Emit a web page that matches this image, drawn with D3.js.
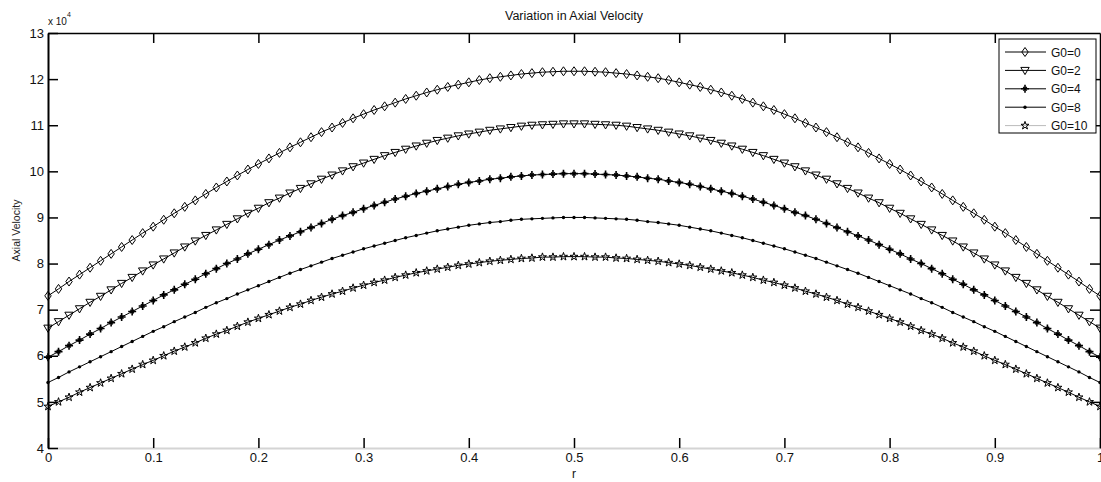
<!DOCTYPE html>
<html>
<head>
<meta charset="utf-8">
<script src="https://cdn.jsdelivr.net/npm/d3@7"></script>
<style>
html,body{margin:0;padding:0;background:#fff;}
svg{display:block;font-family:"Liberation Sans",Arial,sans-serif;}
</style>
</head>
<body>
<svg id="chart" width="1101" height="482"></svg>
<script>
// ---------- data (values in units of 10^4) ----------
const rValues = d3.range(101).map(i => i / 100);
const seriesNames = ["G0=0", "G0=2", "G0=4", "G0=8", "G0=10"];
const g0_0 = [7.30,7.45,7.61,7.76,7.91,8.06,8.21,8.36,8.51,8.66,8.80,8.95,9.09,9.23,9.37,9.51,9.65,9.78,9.91,10.04,10.16,10.28,10.40,10.52,10.63,10.74,10.85,10.95,11.05,11.15,11.24,11.33,11.41,11.49,11.57,11.64,11.71,11.77,11.83,11.88,11.93,11.98,12.02,12.05,12.08,12.11,12.13,12.15,12.16,12.17,12.17,
12.17,12.16,12.15,12.13,12.11,12.08,12.05,12.02,11.98,11.93,11.88,11.83,11.77,11.71,11.64,11.57,11.49,11.41,11.33,11.24,11.15,11.05,10.95,10.85,10.74,10.63,10.52,10.40,10.28,10.16,10.04,9.91,9.78,9.65,9.51,9.37,9.23,9.09,8.95,8.80,8.66,8.51,8.36,8.21,8.06,7.91,7.76,7.61,7.45,7.30];
const g0_2 = [6.60,6.74,6.88,7.02,7.16,7.29,7.43,7.57,7.70,7.84,7.97,8.10,8.23,8.36,8.49,8.61,8.73,8.85,8.97,9.09,9.20,9.32,9.42,9.53,9.63,9.73,9.83,9.92,10.01,10.10,10.18,10.26,10.34,10.41,10.48,10.55,10.61,10.67,10.72,10.77,10.81,10.85,10.89,10.92,10.95,10.98,11.00,11.01,11.02,11.03,11.03,
11.03,11.02,11.01,11.00,10.98,10.95,10.92,10.89,10.85,10.81,10.77,10.72,10.67,10.61,10.55,10.48,10.41,10.34,10.26,10.18,10.10,10.01,9.92,9.83,9.73,9.63,9.53,9.42,9.32,9.20,9.09,8.97,8.85,8.73,8.61,8.49,8.36,8.23,8.10,7.97,7.84,7.70,7.57,7.43,7.29,7.16,7.02,6.88,6.74,6.60];
const g0_4 = [5.97,6.09,6.22,6.34,6.47,6.59,6.72,6.84,6.96,7.08,7.20,7.32,7.43,7.55,7.66,7.78,7.89,8.00,8.10,8.21,8.31,8.41,8.51,8.60,8.69,8.78,8.87,8.96,9.04,9.11,9.19,9.26,9.33,9.40,9.46,9.52,9.57,9.62,9.67,9.72,9.76,9.79,9.83,9.85,9.88,9.90,9.92,9.93,9.94,9.95,9.95,
9.95,9.94,9.93,9.92,9.90,9.88,9.85,9.83,9.79,9.76,9.72,9.67,9.62,9.57,9.52,9.46,9.40,9.33,9.26,9.19,9.11,9.04,8.96,8.87,8.78,8.69,8.60,8.51,8.41,8.31,8.21,8.10,8.00,7.89,7.78,7.66,7.55,7.43,7.32,7.20,7.08,6.96,6.84,6.72,6.59,6.47,6.34,6.22,6.09,5.97];
const g0_8 = [5.42,5.53,5.65,5.76,5.87,5.98,6.09,6.20,6.31,6.42,6.53,6.63,6.74,6.84,6.94,7.05,7.15,7.24,7.34,7.43,7.52,7.61,7.70,7.79,7.87,7.95,8.03,8.11,8.18,8.25,8.32,8.38,8.44,8.50,8.56,8.61,8.66,8.71,8.75,8.79,8.83,8.86,8.89,8.91,8.94,8.96,8.97,8.98,8.99,9.00,9.00,
9.00,8.99,8.98,8.97,8.96,8.94,8.91,8.89,8.86,8.83,8.79,8.75,8.71,8.66,8.61,8.56,8.50,8.44,8.38,8.32,8.25,8.18,8.11,8.03,7.95,7.87,7.79,7.70,7.61,7.52,7.43,7.34,7.24,7.15,7.05,6.94,6.84,6.74,6.63,6.53,6.42,6.31,6.20,6.09,5.98,5.87,5.76,5.65,5.53,5.42];
const g0_10 = [4.90,5.00,5.10,5.21,5.31,5.41,5.51,5.61,5.71,5.81,5.90,6.00,6.10,6.19,6.28,6.38,6.47,6.55,6.64,6.73,6.81,6.89,6.97,7.05,7.12,7.20,7.27,7.34,7.40,7.47,7.53,7.59,7.64,7.70,7.75,7.80,7.84,7.88,7.92,7.96,7.99,8.02,8.05,8.07,8.09,8.11,8.12,8.14,8.14,8.15,8.15,
8.15,8.14,8.14,8.12,8.11,8.09,8.07,8.05,8.02,7.99,7.96,7.92,7.88,7.84,7.80,7.75,7.70,7.64,7.59,7.53,7.47,7.40,7.34,7.27,7.20,7.12,7.05,6.97,6.89,6.81,6.73,6.64,6.55,6.47,6.38,6.28,6.19,6.10,6.00,5.90,5.81,5.71,5.61,5.51,5.41,5.31,5.21,5.10,5.00,4.90];
const xTicks = [0,0.1,0.2,0.3,0.4,0.5,0.6,0.7,0.8,0.9,1];
const xTickLabels = ["0","0.1","0.2","0.3","0.4","0.5","0.6","0.7","0.8","0.9","1"];
const yTicks = [4,5,6,7,8,9,10,11,12,13];
const yTickLabels = ["4","5","6","7","8","9","10","11","12","13"];

// ---------- layout ----------
const svg = d3.select("#chart");
const L = 48, R = 1100, T = 33, B = 448;
const x = d3.scaleLinear().domain([0,1]).range([L,R]);
const y = d3.scaleLinear().domain([4,13]).range([B,T]);

// axes
const fs = 13;
const gx = svg.append("g").attr("transform",`translate(0,${B})`)
  .call(d3.axisBottom(x).tickValues(xTicks).tickSizeInner(-10).tickSizeOuter(0).tickPadding(5)
    .tickFormat((d,i)=>xTickLabels[i]));
gx.select(".domain").attr("stroke","#d4d4d4").attr("stroke-width",2);
gx.selectAll(".tick line").attr("stroke","#000").attr("stroke-width",1.5);
gx.selectAll("text").attr("font-size",fs).attr("fill","#111").attr("font-family","Liberation Sans, Arial, sans-serif");

const gt = svg.append("g").attr("transform",`translate(0,${T})`)
  .call(d3.axisTop(x).tickValues(xTicks.slice(1,-1)).tickSizeInner(-10).tickSizeOuter(0).tickFormat(""));
gt.select(".domain").attr("stroke","#000").attr("stroke-width",1.5);
gt.selectAll(".tick line").attr("stroke","#000").attr("stroke-width",1.5);

const gy = svg.append("g").attr("transform",`translate(${L},0)`)
  .call(d3.axisLeft(y).tickValues(yTicks).tickSizeInner(-10).tickSizeOuter(0).tickPadding(4)
    .tickFormat((d,i)=>yTickLabels[i]));
gy.select(".domain").attr("stroke","#000").attr("stroke-width",2);
gy.selectAll(".tick line").attr("stroke","#000").attr("stroke-width",1.5);
gy.selectAll("text").attr("font-size",fs).attr("fill","#111").attr("font-family","Liberation Sans, Arial, sans-serif");

const gr = svg.append("g").attr("transform",`translate(${R},0)`)
  .call(d3.axisRight(y).tickValues(yTicks.slice(1,-1)).tickSizeInner(-10).tickSizeOuter(0).tickFormat(""));
gr.select(".domain").attr("stroke","#000").attr("stroke-width",1.5);
gr.selectAll(".tick line").attr("stroke","#000").attr("stroke-width",1.5);

// titles
svg.append("text").attr("x",(L+R)/2).attr("y",20).attr("text-anchor","middle")
  .attr("font-size",12.5).attr("fill","#111").text("Variation in Axial Velocity");
svg.append("text").attr("x",(L+R)/2).attr("y",478).attr("text-anchor","middle")
  .attr("font-size",12).attr("fill","#111").text("r");
svg.append("text").attr("transform",`translate(20,${(T+B)/2 - 10}) rotate(-90)`).attr("text-anchor","middle")
  .attr("font-size",10.5).attr("fill","#222").text("Axial Velocity");
const ex = svg.append("text").attr("x",L).attr("y",25).attr("font-size",10).attr("fill","#111");
ex.append("tspan").text("x 10");
ex.append("tspan").attr("dy",-8).attr("font-size",7).text("4");

// markers
const markers = {
  diamond: "M0,-4.5L3.2,0L0,4.5L-3.2,0Z",
  tri: "M-4.2,-3L4.2,-3L0,4.2Z",
  plus: "M-4,0L4,0M0,-4L0,4",
  plusx: "M-1.8,-1.8L1.8,1.8M-1.8,1.8L1.8,-1.8",
  pent: d3.symbol().type(d3.symbolStar).size(20)()
};
const series = [
  {name: seriesNames[0], vals: g0_0, m: "diamond"},
  {name: seriesNames[1], vals: g0_2, m: "tri"},
  {name: seriesNames[2], vals: g0_4, m: "plus"},
  {name: seriesNames[3], vals: g0_8, m: "dot"},
  {name: seriesNames[4], vals: g0_10, m: "pent"}
];
const line = d3.line().x((d,i)=>x(rValues[i])).y(d=>y(d));

function drawMarker(g, type, cx, cy) {
  if (type === "dot") {
    g.append("circle").attr("cx",cx).attr("cy",cy).attr("r",1.7).attr("fill","#000");
  } else if (type === "plus") {
    g.append("path").attr("d",markers.plus).attr("transform",`translate(${cx},${cy})`)
      .attr("stroke","#000").attr("stroke-width",1.6).attr("fill","none");
    g.append("path").attr("d",markers.plusx).attr("transform",`translate(${cx},${cy})`)
      .attr("stroke","#000").attr("stroke-width",1.3).attr("fill","none");
  } else {
    g.append("path").attr("d",markers[type]).attr("transform",`translate(${cx},${cy})`)
      .attr("stroke","#000").attr("stroke-width",1).attr("fill","none");
  }
}

const plot = svg.append("g");
series.forEach(s => {
  plot.append("path").datum(s.vals).attr("d",line).attr("fill","none").attr("stroke","#000").attr("stroke-width",1);
  const mg = plot.append("g");
  s.vals.forEach((v,i) => drawMarker(mg, s.m, x(rValues[i]), y(v)));
});

// legend
const lg = svg.append("g");
const lx = 999, ly = 39, lw = 97, lh = 94, rowH = 18.4;
lg.append("rect").attr("x",lx).attr("y",ly).attr("width",lw).attr("height",lh)
  .attr("fill","#fff").attr("stroke","#000").attr("stroke-width",1);
series.forEach((s,i) => {
  const cy = ly + 13 + i*rowH;
  lg.append("line").attr("x1",lx+6).attr("x2",lx+47).attr("y1",cy).attr("y2",cy)
    .attr("stroke", i === 4 ? "#bbb" : "#000").attr("stroke-width",1);
  drawMarker(lg, s.m, lx+26, cy);
  lg.append("text").attr("x",lx+52).attr("y",cy+4.5).attr("font-size",12).attr("fill","#111").text(s.name);
});
</script>
</body>
</html>
